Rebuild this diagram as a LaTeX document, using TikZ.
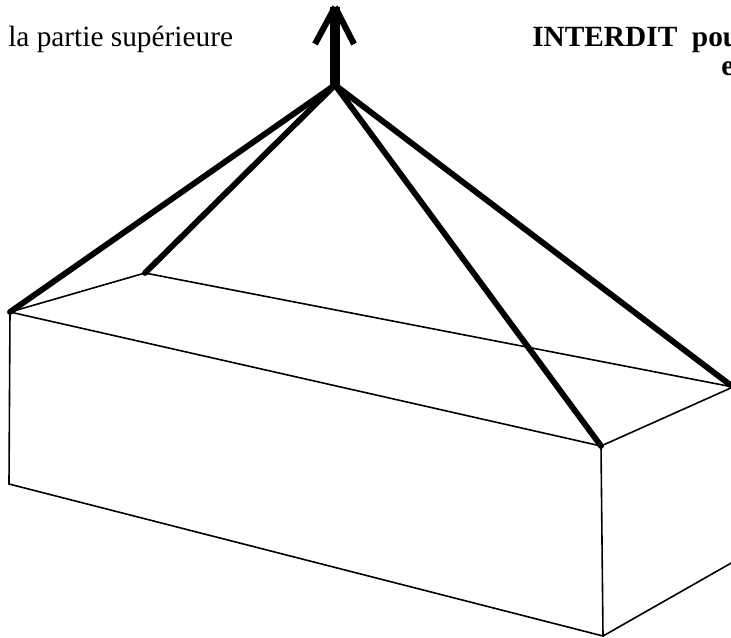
\documentclass[tikz,border=0pt]{standalone}
\usepackage{fontspec}
\setmainfont{Liberation Serif}
\usetikzlibrary{positioning}

\begin{document}
\begin{tikzpicture}[x=0.75pt, y=-0.75pt, font=\fontsize{22pt}{24pt}\selectfont]
\tikzset{boxedge/.style={line width=1.2pt, line cap=round}, rope/.style={line width=4.4pt, line cap=round}, barb/.style={line width=4.6pt}, shaft/.style={line width=7.5pt}}
\useasboundingbox (0,0) rectangle (731,637);
\coordinate (apex) at (335,85);
\coordinate (tip) at (335,7);
\coordinate (barbleft) at (315,44);
\coordinate (barbright) at (354,44);
\coordinate (frontleft) at (10,312);
\coordinate (backleft) at (145,273);
\coordinate (frontright) at (601,446);
\coordinate (backright) at (733,387);
\coordinate (lowleft) at (9,484);
\coordinate (lowfront) at (603,636);
\coordinate (lowright) at (733,562);
% box
\draw[boxedge] (frontleft) -- (backleft) -- (backright) -- (frontright) -- cycle;
\draw[boxedge] (frontleft) -- (lowleft) -- (lowfront) -- (lowright);
\draw[boxedge] (frontright) -- (lowfront);
% ropes
\foreach \corner in {frontleft,backleft,frontright,backright} {\draw[rope] (apex) -- (\corner);}
% arrow
\draw[shaft] (apex) -- (tip);
\draw[barb] (barbleft) -- (tip);
\draw[barb] (barbright) -- (tip);
\node[anchor=base west, inner sep=0pt] (leftlabel) at (8,46) {la partie supérieure};
\node[anchor=base west, inner sep=0pt] (rightlabel) at (532,46) {\textbf{INTERDIT\ \ pou}};
\node[anchor=base west, inner sep=0pt] (rightsecond) at (721,75) {\textbf{e}};
\end{tikzpicture}
\end{document}
